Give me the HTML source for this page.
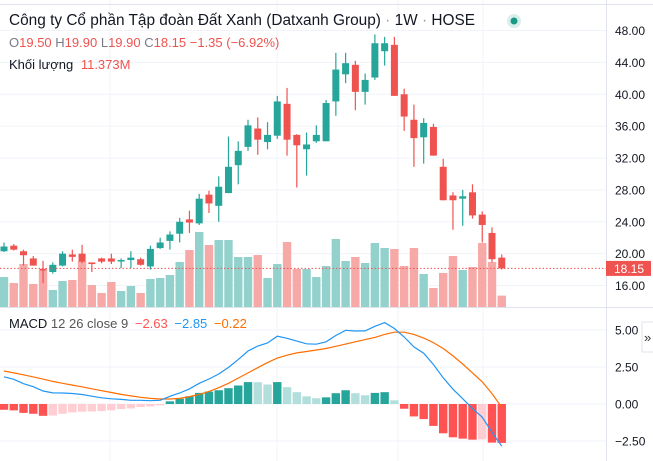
<!DOCTYPE html>
<html><head><meta charset="utf-8">
<style>
html,body{margin:0;padding:0;background:#fff;width:653px;height:461px;overflow:hidden}
svg{display:block}
text{font-family:"Liberation Sans","Noto Sans CJK SC",sans-serif}
</style></head>
<body>
<svg id="chart" width="653" height="461">
  <g id="grid"></g>
  <g id="vol"></g>
  <g id="candles"></g>
  <g id="macdg"></g>
  <g id="axes"></g>
  <text x="9" y="25" font-size="15.4" fill="#131722">Công ty Cổ phần Tập đoàn Đất Xanh (Datxanh Group) <tspan fill="#999">·</tspan> 1W <tspan fill="#999">·</tspan> HOSE</text>
  <circle cx="514" cy="21" r="7" fill="#d8efec"/>
  <circle cx="514" cy="21" r="3.5" fill="#1a9a85"/>
  <text x="9" y="47" font-size="13" fill="#787b86">O<tspan fill="#ef5350">19.50</tspan> H<tspan fill="#ef5350">19.90</tspan> L<tspan fill="#ef5350">19.90</tspan> C<tspan fill="#ef5350">18.15 −1.35 (−6.92%)</tspan></text>
  <text x="9" y="69" font-size="13" fill="#131722">Khối lượng <tspan fill="#ef5350" dx="4">11.373M</tspan></text>
  <text x="9" y="328" font-size="13" fill="#131722">MACD <tspan fill="#555">12 26 close 9</tspan> <tspan fill="#ff5252" dx="3">−2.63</tspan> <tspan fill="#2196f3" dx="3">−2.85</tspan> <tspan fill="#ff6d00" dx="3">−0.22</tspan></text>
  <rect x="642" y="322" width="14" height="30" fill="#fff" stroke="#e0e3eb"/>
  <text x="644" y="342" font-size="13" fill="#333">»</text>
</svg>
<script>
const open_ = [20.3,21.0,20.3,19.4,18.1,17.7,18.5,19.9,20.0,18.9,19.4,19.4,19.1,19.2,19.3,18.4,20.7,21.6,22.5,24.3,23.8,27.4,26.0,27.6,31.1,33.4,35.7,34.0,34.8,38.8,34.9,33.1,34.1,34.1,39.1,42.5,43.7,40.3,42.1,45.4,46.2,40.0,36.8,34.6,35.9,30.9,27.3,26.9,27.7,24.9,22.6,19.5];
const high_ = [21.4,21.2,20.5,19.7,19.1,18.9,20.3,20.5,21.1,18.9,19.5,20.0,19.4,20.3,19.5,21.0,22.0,22.8,24.5,25.4,27.5,27.9,29.7,34.7,34.1,36.8,37.1,36.5,39.8,40.8,35.0,35.2,36.1,39.3,45.2,45.2,44.2,42.6,47.5,47.2,47.2,40.7,38.7,37.0,36.3,31.9,27.7,28.0,28.7,25.3,23.3,19.9];
const low_ = [20.2,20.4,18.5,18.5,16.3,17.5,18.4,19.0,18.8,17.7,18.8,18.7,18.2,18.2,18.5,18.0,20.6,20.5,21.4,22.6,23.6,25.1,24.0,27.6,28.7,32.9,32.4,33.1,34.4,32.3,28.3,29.8,33.9,34.1,37.3,41.4,38.0,38.7,41.8,43.6,39.8,35.4,30.9,31.3,32.3,26.7,23.0,23.5,24.4,21.4,18.9,18.0];
const close_ = [20.9,20.5,19.8,18.5,17.9,18.6,20.0,19.6,19.0,18.7,19.0,19.0,19.2,19.5,18.6,20.6,21.4,22.4,24.0,23.9,26.9,26.3,28.4,30.9,32.9,36.1,34.3,34.9,39.1,34.3,33.6,33.7,34.9,38.9,43.1,43.9,40.3,41.8,46.4,46.4,39.8,37.2,34.5,36.4,32.3,26.7,26.7,27.2,24.8,23.6,19.3,18.15];
const volume = [30,24,43,23,37,17,26,27,46,22,14,25,16,21,14,28,29,32,45,57,75,62,67,67,50,50,52,29,43,65,38,38,30,41,68,46,50,44,64,59,58,41,59,33,19,34,51,37,40,64,45,11.373];
const hist = [-0.39,-0.43,-0.6,-0.66,-0.8,-0.78,-0.66,-0.57,-0.52,-0.5,-0.48,-0.43,-0.34,-0.3,-0.2,-0.16,-0.09,0.18,0.36,0.52,0.75,0.84,0.93,1.07,1.25,1.48,1.47,1.32,1.48,1.14,0.8,0.52,0.39,0.45,0.73,0.93,0.73,0.59,0.75,0.8,0.25,-0.32,-0.84,-1.02,-1.48,-1.98,-2.25,-2.34,-2.41,-2.39,-2.61,-2.63];
const macdLine = [1.84,1.67,1.37,1.17,0.88,0.75,0.74,0.71,0.64,0.53,0.42,0.35,0.31,0.25,0.25,0.22,0.25,0.52,0.74,1.02,1.4,1.69,2.03,2.47,3.0,3.58,3.92,4.12,4.58,4.44,4.25,4.07,4.04,4.2,4.63,4.98,4.93,4.94,5.25,5.5,5.1,4.53,3.86,3.43,2.67,1.77,1.0,0.36,-0.31,-0.89,-1.91,-2.85];
const signalLine = [2.23,2.1,1.97,1.83,1.68,1.53,1.4,1.28,1.16,1.03,0.9,0.78,0.65,0.55,0.45,0.38,0.34,0.34,0.38,0.5,0.65,0.85,1.1,1.4,1.75,2.1,2.45,2.8,3.1,3.3,3.45,3.55,3.65,3.75,3.9,4.05,4.2,4.35,4.5,4.7,4.85,4.85,4.7,4.45,4.15,3.75,3.25,2.7,2.1,1.5,0.7,-0.22];
const priceTicks = [48,44,40,36,32,28,24,20,16];
const macdTicks = [5,2.5,0,-2.5];
const lastPrice = 18.15;

const NS='http://www.w3.org/2000/svg';
function mk(parent,tag,attrs){const e=document.createElementNS(NS,tag);for(const k in attrs)e.setAttribute(k,attrs[k]);parent.appendChild(e);return e;}
const xOf = i => 4 + i*9.76;
const yP = p => 30.5 + (48-p)*7.97;
const yV = v => 307 - v*1.0;
const yM = v => 404 - v*14.8;
const G='#26a69a', R='#ef5350';

const grid=document.getElementById('grid');
[110,277,398,483].forEach(x=>{const l=mk(grid,'line',{x1:x,x2:x,y1:0,y2:461,stroke:'#f0f3fa'});

});
const ax=document.getElementById('axes');
priceTicks.forEach(t=>{const y=yP(t);
const l=mk(grid,'line',{x1:0,x2:606,y1:y,y2:y,stroke:'#f0f3fa'});


const tx=mk(ax,'text',{x:615,y:y+4.5,'font-size':12,fill:'#131722'});tx.textContent=t.toFixed(2);

});
macdTicks.forEach(t=>{const y=yM(t);
const l=mk(grid,'line',{x1:0,x2:606,y1:y,y2:y,stroke:'#f0f3fa'});


const tx=mk(ax,'text',{x:615,y:y+4.5,'font-size':12,fill:'#131722'});tx.textContent=(t<0?'−':'')+Math.abs(t).toFixed(2);

});
let b=mk(ax,'line',{x1:606.5,x2:606.5,y1:0,y2:461,stroke:'#e0e3eb'});


b=mk(ax,'line',{x1:0,x2:653,y1:307.5,y2:307.5,stroke:'#e0e3eb'});


b=mk(ax,'line',{x1:0,x2:653,y1:4.5,y2:4.5,stroke:'#e0e3eb'});



const vol=document.getElementById('vol');
volume.forEach((v,i)=>{const up=close_[i]>=open_[i];
const r=mk(vol,'rect',{x:xOf(i)-4.2,y:yV(v),width:8.4,height:307-yV(v),fill:up?'#93d2cc':'#f7a9a7'});

});

const cg=document.getElementById('candles');
open_.forEach((o,i)=>{const c=close_[i];const col=c>=o?G:R;const x=xOf(i);
const w=mk(cg,'line',{x1:x,x2:x,y1:yP(high_[i]),y2:yP(low_[i]),stroke:col,'stroke-width':1.2});


const top=yP(Math.max(o,c)), h=Math.max(1.5,yP(Math.min(o,c))-top);
const r=mk(cg,'rect',{x:x-3.5,y:top,width:7,height:h,fill:col});

});
const yl=yP(lastPrice);
let pl=mk(cg,'line',{x1:0,x2:606,y1:yl,y2:yl,stroke:R,'stroke-dasharray':'1.5 2'});


let pr=mk(ax,'rect',{x:606,y:yl-7.5,width:45,height:15,fill:R});


let pt=mk(ax,'text',{x:614,y:yl+4.5,'font-size':12,fill:'#fff'});pt.textContent=lastPrice.toFixed(2);



const mg=document.getElementById('macdg');
hist.forEach((h,i)=>{const prev=i>0?hist[i-1]:h;let col;
if(h>=0)col=h>=prev?'#26a69a':'#b2dfdb';else col=h<=prev?'#ff5252':'#ffcdd2';
const y0=yM(0),y1=yM(h);
const r=mk(mg,'rect',{x:xOf(i)-4.2,y:Math.min(y0,y1),width:8.4,height:Math.abs(y1-y0),fill:col});

});
const pts=a=>a.map((v,i)=>xOf(i).toFixed(1)+','+yM(v).toFixed(1)).join(' ');
let sl=mk(mg,'polyline',{points:pts(signalLine),fill:'none',stroke:'#ff6d00','stroke-width':1.2});


let ml=mk(mg,'polyline',{points:pts(macdLine),fill:'none',stroke:'#2196f3','stroke-width':1.2});


</script>
</body></html>
